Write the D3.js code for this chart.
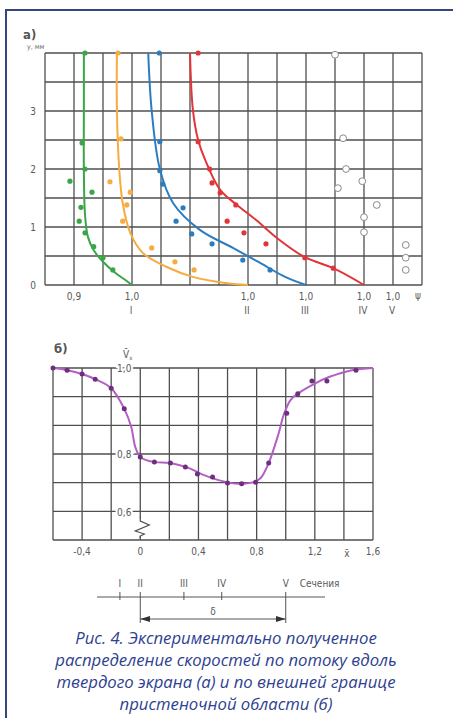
<!DOCTYPE html>
<html>
<head>
<meta charset="utf-8">
<script src="https://cdn.jsdelivr.net/npm/d3@7"></script>
<style>
    body { margin: 0; background: #fff; }
    svg { display: block; font-family: "DejaVu Sans Condensed", "Liberation Sans", sans-serif; }
    .grid line { stroke: #4f4f4f; stroke-width: 1.3; }
    .lbl { fill: #5a5a5a; font-size: 10px; }
    .caption { fill: #2e4190; font-family: "Open Sans", sans-serif; font-style: italic; font-size: 16.7px; }
</style>
</head>
<body>
<svg id="chart" width="453" height="718"></svg>
<script>
// ---- panel а): velocity profiles, psi (own section) vs y, mm
const sections = ["I", "II", "III", "IV", "V"];
const sectionShift = [0, 0.2, 0.3, 0.4, 0.45];
const heightTicks = [0, 1, 2, 3];
const psiTicks = [0.9, 1.0, 1.0, 1.0, 1.0, 1.0];
const psiTickSection = [0, 0, 1, 2, 3, 4];
const psiTickLabels = ["0,9", "1,0", "1,0", "1,0", "1,0", "1,0"];

const curveI = [[0.917, 4], [0.917, 3], [0.917, 2], [0.919, 1.21], [0.924, 0.83], [0.934, 0.6],
    [0.95, 0.4], [0.971, 0.21], [0.988, 0.09], [1.0, 0]];
const pointsI = [[0.919, 4.0], [0.914, 2.45], [0.893, 1.79], [0.919, 2.0], [0.931, 1.6], [0.912, 1.34],
    [0.909, 1.1], [0.919, 0.9], [0.934, 0.66], [0.95, 0.47], [0.967, 0.26]];

const curveII = [[0.774, 4], [0.774, 3], [0.778, 2], [0.784, 1.41], [0.797, 0.9], [0.819, 0.55],
    [0.86, 0.31], [0.905, 0.14], [0.964, 0.03], [1.0, 0]];
const pointsII = [[0.776, 4.0], [0.781, 2.52], [0.762, 1.78], [0.797, 1.6], [0.791, 1.38], [0.784, 1.1],
    [0.834, 0.64], [0.874, 0.4], [0.907, 0.26]];

const curveIII = [[0.728, 4], [0.734, 3], [0.748, 2], [0.771, 1.41], [0.817, 0.95], [0.874, 0.64],
    [0.921, 0.38], [0.964, 0.14], [1.0, 0]];
const pointsIII = [[0.747, 4.0], [0.748, 2.47], [0.748, 1.97], [0.753, 1.74], [0.788, 1.33], [0.776, 1.1],
    [0.803, 0.88], [0.838, 0.71], [0.891, 0.43], [0.938, 0.26]];

const curveIV = [[0.7, 4], [0.705, 3.02], [0.714, 2.5], [0.726, 2.16], [0.752, 1.64], [0.781, 1.38],
    [0.814, 1.12], [0.85, 0.81], [0.898, 0.48], [0.947, 0.29], [1.0, 0]];
const pointsIV = [[0.714, 4.0], [0.714, 2.47], [0.734, 2.0], [0.738, 1.76], [0.752, 1.59], [0.779, 1.38],
    [0.764, 1.1], [0.793, 0.9], [0.831, 0.71], [0.898, 0.47], [0.947, 0.29]];

const openIV = [[0.95, 3.97], [0.964, 2.53], [0.969, 2.0], [0.955, 1.67], [0.997, 1.79], [1.022, 1.38],
    [1.0, 1.17], [1.0, 0.91]];
const openV = [[1.022, 0.69], [1.022, 0.47], [1.022, 0.26]];

const profileColors = ["#3aa648", "#f5ac40", "#2b7dc2", "#e2353a"];

// ---- panel б): velocity along outer boundary
const xbTicks = [-0.4, 0, 0.4, 0.8, 1.2, 1.6];
const xbLabels = ["-0,4", "0", "0,4", "0,8", "1,2", "1,6"];
const ybTicks = [1.0, 0.8, 0.6];
const ybLabels = ["1,0", "0,8", "0,6"];

const boundaryCurve = [[-0.6, 1.0], [-0.5, 0.995], [-0.4, 0.986], [-0.31, 0.974], [-0.2, 0.953],
    [-0.11, 0.905], [-0.062, 0.863], [-0.034, 0.816], [0, 0.79], [0.041, 0.779], [0.103, 0.772],
    [0.207, 0.769], [0.331, 0.752], [0.434, 0.728], [0.538, 0.71], [0.676, 0.697], [0.779, 0.703],
    [0.828, 0.717], [0.883, 0.769], [0.952, 0.849], [0.986, 0.891], [1.034, 0.926], [1.09, 0.942],
    [1.207, 0.965], [1.297, 0.979], [1.455, 0.995], [1.6, 1.0]];
const boundaryPoints = [[-0.6, 1.0], [-0.503, 0.995], [-0.4, 0.986], [-0.31, 0.974], [-0.2, 0.953],
    [-0.11, 0.905], [0, 0.79], [0.097, 0.772], [0.207, 0.769], [0.31, 0.755], [0.393, 0.731],
    [0.497, 0.721], [0.6, 0.7], [0.697, 0.697], [0.793, 0.703], [0.883, 0.769], [1.007, 0.895],
    [1.083, 0.94], [1.18, 0.97], [1.283, 0.97], [1.483, 0.995]];

const crossSections = [-0.14, 0, 0.3, 0.56, 1.0];

const captionLines = [
    "Рис. 4. Экспериментально полученное",
    "распределение скоростей по потоку вдоль",
    "твердого экрана (а) и по внешней границе",
    "пристеночной области (б)"
];

const svg = d3.select("#chart");

// frame (left + top only)
svg.append("path")
    .attr("d", "M6,718V10H453")
    .attr("fill", "none")
    .attr("stroke", "#36457f")
    .attr("stroke-width", 2);

// ================= panel а =================
const xa = d3.scaleLinear().domain([0.85, 1.5]).range([45, 422]);
const ya = d3.scaleLinear().domain([0, 4]).range([285, 53]);

const gridA = svg.append("g").attr("class", "grid");
gridA.selectAll("line.v")
    .data(d3.range(14).map(i => 0.85 + i * 0.05))
    .enter().append("line")
    .attr("x1", d => xa(d)).attr("x2", d => xa(d))
    .attr("y1", ya(0)).attr("y2", ya(4));
gridA.selectAll("line.h")
    .data(d3.range(9).map(i => i * 0.5))
    .enter().append("line")
    .attr("x1", xa(0.85)).attr("x2", xa(1.5))
    .attr("y1", d => ya(d)).attr("y2", d => ya(d));

svg.append("text").attr("x", 23).attr("y", 39)
    .attr("fill", "#555").attr("font-size", 13).attr("font-weight", "bold").text("а)");
svg.append("text").attr("x", 27).attr("y", 49)
    .attr("fill", "#666").attr("font-size", 7).text("y, мм");

svg.selectAll("text.ya")
    .data(heightTicks)
    .enter().append("text")
    .attr("class", "lbl")
    .attr("x", 36).attr("y", d => ya(d) + 4)
    .attr("text-anchor", "end")
    .text(d => d);

svg.selectAll("text.xa")
    .data(psiTicks)
    .enter().append("text")
    .attr("class", "lbl")
    .attr("x", (d, i) => xa(d + sectionShift[psiTickSection[i]]))
    .attr("y", 300)
    .attr("text-anchor", "middle")
    .text((d, i) => psiTickLabels[i]);
svg.append("text").attr("class", "lbl")
    .attr("x", xa(1.0 + sectionShift[4]) + 25).attr("y", 299)
    .attr("text-anchor", "middle").text("ψ");

svg.selectAll("text.sec")
    .data(sections)
    .enter().append("text")
    .attr("class", "lbl")
    .attr("font-size", 9)
    .attr("x", (d, i) => xa(1.0 + sectionShift[i]) - 1)
    .attr("y", 314)
    .attr("text-anchor", "middle")
    .text(d => d);

const profiles = [curveI, curveII, curveIII, curveIV];
const profilePoints = [pointsI, pointsII, pointsIII, pointsIV];

profiles.forEach(function(curve, k) {
    const line = d3.line()
        .x(d => xa(d[0] + sectionShift[k]))
        .y(d => ya(d[1]))
        .curve(d3.curveCatmullRom.alpha(0.5));
    svg.append("path")
        .datum(curve)
        .attr("d", line)
        .attr("fill", "none")
        .attr("stroke", profileColors[k])
        .attr("stroke-width", 2);
    svg.append("g").selectAll("circle")
        .data(profilePoints[k])
        .enter().append("circle")
        .attr("cx", d => xa(d[0] + sectionShift[k]))
        .attr("cy", d => ya(d[1]))
        .attr("r", 2.6)
        .attr("fill", profileColors[k]);
});

[[openIV, 3], [openV, 4]].forEach(function([pts, k]) {
    svg.append("g").selectAll("circle")
        .data(pts)
        .enter().append("circle")
        .attr("cx", d => xa(d[0] + sectionShift[k]))
        .attr("cy", d => ya(d[1]))
        .attr("r", 3.4)
        .attr("fill", "#fff")
        .attr("stroke", "#8a8a8a")
        .attr("stroke-width", 1);
});

// ================= panel б =================
const xb = d3.scaleLinear().domain([-0.6, 1.6]).range([53, 373]);
const yb = d3.scaleLinear().domain([0.5, 0.6, 0.8, 1.0]).range([540, 512, 454, 368]);
const rowB = d3.scaleLinear().domain([0, 6]).range([540, 368]);

const gridB = svg.append("g").attr("class", "grid");
gridB.selectAll("line.v")
    .data(d3.range(12).map(i => -0.6 + i * 0.2))
    .enter().append("line")
    .attr("x1", d => xb(d)).attr("x2", d => xb(d))
    .attr("y1", rowB(0)).attr("y2", rowB(6));
gridB.selectAll("line.h")
    .data(d3.range(7))
    .enter().append("line")
    .attr("x1", xb(-0.6)).attr("x2", xb(1.6))
    .attr("y1", d => rowB(d)).attr("y2", d => rowB(d));

// axis break
svg.append("rect").attr("x", xb(0) - 3).attr("y", 518).attr("width", 6).attr("height", 18).attr("fill", "#fff");
svg.append("path")
    .attr("d", `M${xb(0)},517 L${xb(0)},521 L${xb(0) + 9},525 L${xb(0) - 5},531 L${xb(0) + 4},534 L${xb(0)},536 L${xb(0)},538`)
    .attr("fill", "none").attr("stroke", "#4f4f4f").attr("stroke-width", 1.2);

svg.selectAll("text.yb")
    .data(ybTicks)
    .enter().append("text")
    .attr("class", "lbl")
    .attr("x", xb(0) - 16).attr("y", d => yb(d) + 4)
    .attr("text-anchor", "middle")
    .attr("stroke", "#fff").attr("stroke-width", 4).attr("paint-order", "stroke")
    .text((d, i) => ybLabels[i]);

svg.selectAll("text.xb")
    .data(xbTicks)
    .enter().append("text")
    .attr("class", "lbl")
    .attr("x", d => xb(d)).attr("y", 555)
    .attr("text-anchor", "middle")
    .text((d, i) => xbLabels[i]);
svg.append("text").attr("class", "lbl").attr("font-size", 8)
    .attr("x", xb(1.42)).attr("y", 557).attr("text-anchor", "middle").text("x̄");

svg.append("text").attr("x", 54).attr("y", 353)
    .attr("fill", "#555").attr("font-size", 13).attr("font-weight", "bold").text("б)");
const vLabel = svg.append("text").attr("class", "lbl").attr("font-size", 9).attr("x", 123).attr("y", 358);
vLabel.append("tspan").text("V̄");
vLabel.append("tspan").attr("font-size", 6).attr("dy", 1.5).text("x");

svg.append("path")
    .datum(boundaryCurve)
    .attr("d", d3.line().x(d => xb(d[0])).y(d => yb(d[1])).curve(d3.curveCatmullRom.alpha(0.5)))
    .attr("fill", "none")
    .attr("stroke", "#b35fc4")
    .attr("stroke-width", 2);
svg.append("g").selectAll("circle")
    .data(boundaryPoints)
    .enter().append("circle")
    .attr("cx", d => xb(d[0]))
    .attr("cy", d => yb(d[1]))
    .attr("r", 2.5)
    .attr("fill", "#6e2f7e");

// cross-section scheme
const secY = 597;
svg.append("line").attr("x1", 97).attr("x2", 325).attr("y1", secY).attr("y2", secY)
    .attr("stroke", "#555").attr("stroke-width", 1);
svg.selectAll("line.sec")
    .data(crossSections)
    .enter().append("line")
    .attr("x1", d => xb(d)).attr("x2", d => xb(d))
    .attr("y1", secY - 5)
    .attr("y2", (d, i) => (i === 1 || i === 4) ? 623 : secY + 3)
    .attr("stroke", "#555").attr("stroke-width", 1);
svg.selectAll("text.secb")
    .data(crossSections)
    .enter().append("text")
    .attr("class", "lbl").attr("font-size", 9)
    .attr("x", d => xb(d)).attr("y", 587)
    .attr("text-anchor", "middle")
    .text((d, i) => sections[i]);
svg.append("text").attr("class", "lbl").attr("font-size", 8)
    .attr("x", xb(1.0) + 14).attr("y", 587).text("Сечения");

const defs = svg.append("defs");
defs.append("marker").attr("id", "arr").attr("viewBox", "0 0 10 6")
    .attr("refX", 10).attr("refY", 3).attr("markerWidth", 10).attr("markerHeight", 6)
    .attr("markerUnits", "userSpaceOnUse").attr("orient", "auto-start-reverse")
    .append("path").attr("d", "M0,0L10,3L0,6Z").attr("fill", "#333");
svg.append("line")
    .attr("x1", xb(0)).attr("x2", xb(1.0)).attr("y1", 619).attr("y2", 619)
    .attr("stroke", "#555").attr("stroke-width", 1)
    .attr("marker-start", "url(#arr)").attr("marker-end", "url(#arr)");
svg.append("text").attr("class", "lbl").attr("font-size", 9)
    .attr("x", xb(0.5)).attr("y", 615).attr("text-anchor", "middle").text("δ");

// caption
svg.selectAll("text.caption")
    .data(captionLines)
    .enter().append("text")
    .attr("class", "caption")
    .attr("x", 226)
    .attr("y", (d, i) => 644 + i * 22)
    .attr("text-anchor", "middle")
    .text(d => d);
</script>
</body>
</html>
